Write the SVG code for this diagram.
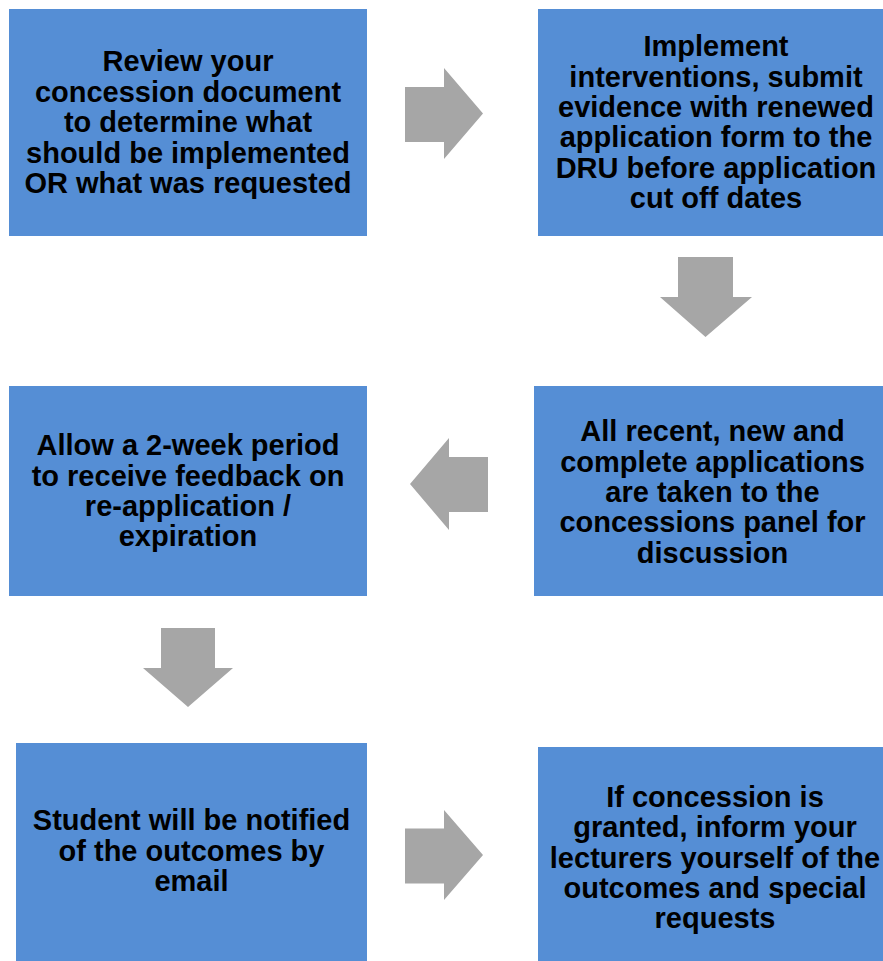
<svg xmlns="http://www.w3.org/2000/svg" width="883" height="961" viewBox="0 0 883 961">
<style>
.box{fill:#558ED5;}
.arr{fill:#A6A6A6;}
text{font-family:"Liberation Sans",Arial,sans-serif;font-weight:bold;font-size:29px;fill:#000;text-anchor:middle;}
</style>
<rect width="883" height="961" fill="#fff"/>
<g id="connectors">
<polygon class="arr" points="405,87 444,87 444,68 483,113.5 444,159 444,142 405,142"/>
<polygon class="arr" points="678,257 733,257 733,297 752,297 705.5,337 660,297 678,297"/>
<polygon class="arr" points="488,457 449,457 449,438 410,484 449,530 449,512 488,512"/>
<polygon class="arr" points="161,628 215,628 215,668 233,668 188,707 143,668 161,668"/>
<polygon class="arr" points="405,828.5 444,828.5 444,810 483,855 444,900 444,883.5 405,883.5"/>
</g>
<g id="n1">
<rect class="box" x="9" y="9" width="358" height="227"/>
<text x="188" y="71">Review your</text>
<text x="188" y="101.5">concession document</text>
<text x="188" y="132">to determine what</text>
<text x="188" y="162.5">should be implemented</text>
<text x="188" y="193">OR what was requested</text>
</g>
<g id="n2">
<rect class="box" x="538" y="9" width="357" height="227"/>
<text x="716" y="56">Implement</text>
<text x="716" y="86.5">interventions, submit</text>
<text x="716" y="117">evidence with renewed</text>
<text x="716" y="147">application form to the</text>
<text x="716" y="177.5">DRU before application</text>
<text x="716" y="208">cut off dates</text>
</g>
<g id="n3">
<rect class="box" x="534" y="386" width="357" height="210"/>
<text x="712.5" y="441">All recent, new and</text>
<text x="712.5" y="471.5">complete applications</text>
<text x="712.5" y="502">are taken to the</text>
<text x="712.5" y="532">concessions panel for</text>
<text x="712.5" y="562.5">discussion</text>
</g>
<g id="n4">
<rect class="box" x="9" y="386" width="358" height="210"/>
<text x="188" y="455">Allow a 2-week period</text>
<text x="188" y="485.5">to receive feedback on</text>
<text x="188" y="516">re-application /</text>
<text x="188" y="546">expiration</text>
</g>
<g id="n5">
<rect class="box" x="16" y="743" width="351" height="218"/>
<text x="191.5" y="830">Student will be notified</text>
<text x="191.5" y="861">of the outcomes by</text>
<text x="191.5" y="891">email</text>
</g>
<g id="n6">
<rect class="box" x="538" y="747" width="357" height="214"/>
<text x="715" y="807">If concession is</text>
<text x="715" y="837">granted, inform your</text>
<text x="715" y="867.5">lecturers yourself of the</text>
<text x="715" y="898">outcomes and special</text>
<text x="715" y="928">requests</text>
</g>
</svg>
